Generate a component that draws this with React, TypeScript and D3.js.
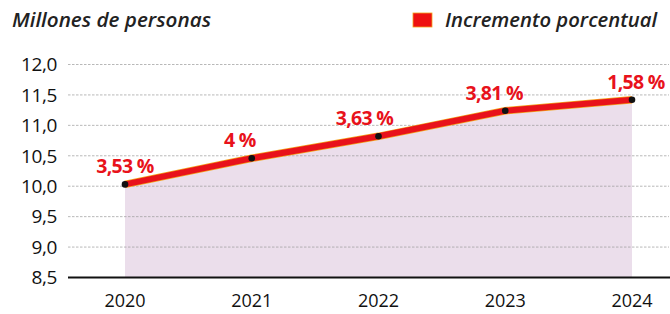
import React, { useEffect, useRef } from 'react'
import * as d3 from 'd3'

const years = [2020, 2021, 2022, 2023, 2024]
const millions = [10.03, 10.46, 10.82, 11.24, 11.42]
const pctLabels = ['3,53 %', '4 %', '3,63 %', '3,81 %', '1,58 %']
const yTicks = [8.5, 9.0, 9.5, 10.0, 10.5, 11.0, 11.5, 12.0]

export default function App(): React.ReactElement {
  const chartRef = useRef<HTMLDivElement>(null)

  useEffect(() => {
    const width = 670
    const height = 314
    const gridLeft = 68
    const gridRight = 669

    const data = years.map((year, i) => ({ year, value: millions[i], label: pctLabels[i] }))

    const x = d3.scaleLinear().domain([2020, 2024]).range([125, 632])
    const y = d3.scaleLinear().domain([8.5, 12]).range([277.5, 64.5])

    // label nudges so they sit up-left of the points like the print
    const labelDx = [0, -12, -14, -11, 4]

    d3.select(chartRef.current).select('svg').remove()

    const svg = d3
      .select(chartRef.current)
      .append('svg')
      .attr('width', width)
      .attr('height', height)
      .attr('viewBox', `0 0 ${width} ${height}`)
      .attr('style', 'position:absolute; left:0; top:0; background:#fff;')

    // area under line
    const area = d3
      .area<(typeof data)[number]>()
      .x((d) => x(d.year))
      .y0(y(8.5))
      .y1((d) => y(d.value))

    svg.append('path').datum(data).attr('d', area).attr('fill', '#ebdeeb')

    // dashed grid
    svg
      .append('g')
      .selectAll('line')
      .data(yTicks.filter((t) => t > 8.5))
      .join('line')
      .attr('x1', gridLeft)
      .attr('x2', gridRight)
      .attr('y1', (d) => y(d))
      .attr('y2', (d) => y(d))
      .attr('stroke', '#9a9a9a')
      .attr('stroke-width', 0.7)
      .attr('stroke-dasharray', '2.5,1.5')

    // base line
    svg
      .append('line')
      .attr('x1', gridLeft)
      .attr('x2', width)
      .attr('y1', y(8.5))
      .attr('y2', y(8.5))
      .attr('stroke', '#111')
      .attr('stroke-width', 2)

    // y axis labels
    const fmt = (v: number) => v.toFixed(1).replace('.', ',')
    svg
      .append('g')
      .attr('font-family', '"Open Sans", sans-serif')
      .attr('font-size', 19)
      .attr('fill', '#111')
      .attr('text-anchor', 'end')
      .attr('letter-spacing', -0.4)
      .selectAll('text')
      .data(yTicks)
      .join('text')
      .attr('x', 57)
      .attr('y', (d) => y(d))
      .attr('dy', '0.36em')
      .text((d) => fmt(d))

    // x axis labels
    svg
      .append('g')
      .attr('font-family', '"Open Sans", sans-serif')
      .attr('font-size', 18)
      .attr('fill', '#111')
      .attr('text-anchor', 'middle')
      .selectAll('text')
      .data(years)
      .join('text')
      .attr('x', (d) => x(d))
      .attr('y', 307)
      .text((d) => String(d))

    // line
    const line = d3
      .line<(typeof data)[number]>()
      .x((d) => x(d.year))
      .y((d) => y(d.value))

    svg
      .append('path')
      .datum(data)
      .attr('d', line)
      .attr('fill', 'none')
      .attr('stroke', '#f3a21c')
      .attr('stroke-width', 7.5)
    svg
      .append('path')
      .datum(data)
      .attr('d', line)
      .attr('fill', 'none')
      .attr('stroke', '#e8121b')
      .attr('stroke-width', 6)

    svg
      .append('g')
      .selectAll('circle')
      .data(data)
      .join('circle')
      .attr('cx', (d) => x(d.year))
      .attr('cy', (d) => y(d.value))
      .attr('r', 3.3)
      .attr('fill', '#111')

    // percentage labels
    svg
      .append('g')
      .attr('font-family', '"Open Sans", sans-serif')
      .attr('font-size', 19.5)
      .attr('font-weight', 700)
      .attr('fill', '#e8121b')
      .attr('text-anchor', 'middle')
      .attr('letter-spacing', -0.7)
      .selectAll('text')
      .data(data)
      .join('text')
      .attr('x', (d, i) => x(d.year) + labelDx[i])
      .attr('y', (d) => y(d.value) - 11)
      .text((d) => d.label)

    // title
    svg
      .append('text')
      .attr('x', 12)
      .attr('y', 27)
      .attr('font-family', '"Open Sans", sans-serif')
      .attr('font-style', 'italic')
      .attr('font-weight', 600)
      .attr('font-size', 19)
      .attr('fill', '#222')
      .attr('textLength', 199)
      .attr('lengthAdjust', 'spacingAndGlyphs')
      .text('Millones de personas')

    // legend
    svg
      .append('rect')
      .attr('x', 413)
      .attr('y', 13)
      .attr('width', 19)
      .attr('height', 14)
      .attr('fill', '#ee1111')
      .attr('stroke', '#f3a21c')
      .attr('stroke-width', 0.8)
    svg
      .append('text')
      .attr('x', 445)
      .attr('y', 27)
      .attr('font-family', '"Open Sans", sans-serif')
      .attr('font-style', 'italic')
      .attr('font-weight', 600)
      .attr('font-size', 19)
      .attr('fill', '#222')
      .attr('textLength', 212)
      .attr('lengthAdjust', 'spacingAndGlyphs')
      .text('Incremento porcentual')
  }, [])

  return <div ref={chartRef}></div>
}
